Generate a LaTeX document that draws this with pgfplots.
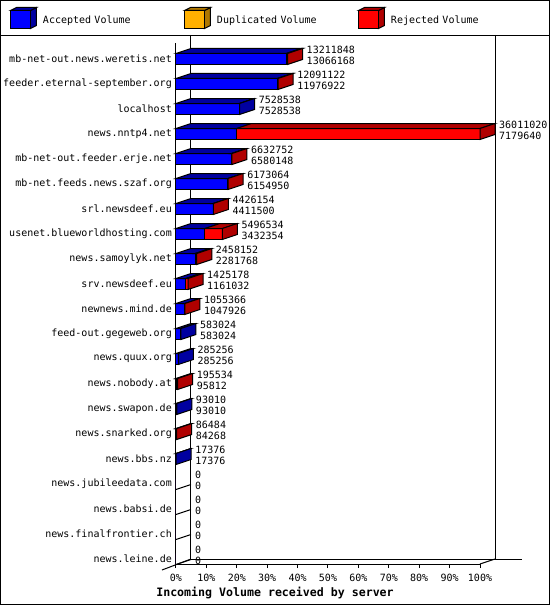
\documentclass[border=0pt]{standalone}
\usepackage{fontspec}
\setmainfont{DejaVu Sans Mono}
\usepackage{pgfplots}
\usepackage{pgfplotstable}
\pgfplotsset{compat=1.18}

\definecolor{acc}{RGB}{0,0,255}
\definecolor{accdark}{RGB}{0,0,160}
\definecolor{dup}{RGB}{255,176,0}
\definecolor{dupdark}{RGB}{176,120,0}
\definecolor{rej}{RGB}{255,0,0}
\definecolor{rejdark}{RGB}{176,0,0}

\newcommand\smallfont{\fontsize{10bp}{11bp}\selectfont}
\pgfdeclareplotmark{empty}{}

% row, total volume, accepted volume (bytes); max total = 36011020
\pgfplotstableread{
i tot acc
0 13211848 13066168
1 12091122 11976922
2 7528538 7528538
3 36011020 7179640
4 6632752 6580148
5 6173064 6154950
6 4426154 4411500
7 5496534 3432354
8 2458152 2281768
9 1425178 1161032
10 1055366 1047926
11 583024 583024
12 285256 285256
13 195534 95812
14 93010 93010
15 86484 84268
16 17376 17376
17 0 0
18 0 0
19 0 0
20 0 0
}\volumes

% 3d box faces and the top label, drawn at the right end of each bar
\newcommand\drawbox{%
  \begingroup
    \pgfkeys{/pgf/fpu=true,/pgf/fpu/output format=fixed}%
    \pgfmathparse{\totL}\xdef\bL{\pgfmathresult}%
    \pgfmathparse{-\totL}\xdef\bLn{\pgfmathresult}%
    \pgfmathparse{15-\totL}\xdef\bLf{\pgfmathresult}%
    \pgfmathparse{\accL-\totL}\xdef\bB{\pgfmathresult}%
    \pgfmathparse{15+\accL-\totL}\xdef\bBf{\pgfmathresult}%
  \endgroup
  \ifdim\bL pt>0pt
    \ifdim\bB pt<-0.001pt \def\sidecol{rejdark}\else\def\sidecol{accdark}\fi
    \draw[line width=1bp, fill=accdark] (\bLn bp,5.5bp) -- (\bB bp,5.5bp)
      -- (\bBf bp,10.5bp) -- (\bLf bp,10.5bp) -- cycle;
    \draw[line width=1bp, fill=rejdark] (\bB bp,5.5bp) -- (0bp,5.5bp)
      -- (15bp,10.5bp) -- (\bBf bp,10.5bp) -- cycle;
    \draw[line width=1bp, fill=\sidecol] (0bp,-5.5bp) -- (0bp,5.5bp)
      -- (15bp,10.5bp) -- (15bp,-0.5bp) -- cycle;
  \else
    \draw[line width=1bp] (0bp,-5.5bp) -- (15bp,-0.5bp);
  \fi
  \node[anchor=west, inner sep=0pt, font=\smallfont] at (19bp,9bp) {\pgfplotspointmeta};
}

\newcommand\legcube[2]{%
  \draw[line width=1bp, fill=#2] (20bp,-8.5bp) -- (26bp,-5.5bp) -- (26bp,12.5bp) -- (20bp,9.5bp) -- cycle;
  \draw[line width=1bp, fill=#2] (0bp,9.5bp) -- (6bp,12.5bp) -- (26bp,12.5bp) -- (20bp,9.5bp) -- cycle;
  \draw[line width=1bp, fill=#1] (0bp,-8.5bp) rectangle (20bp,9.5bp);
}

\begin{document}
\begin{tikzpicture}
\begin{axis}[
  at={(0,0)}, anchor=origin,
  x=3.04bp, y=25bp,
  xmin=0, xmax=100, ymin=-20.2, ymax=0.64,
  clip=false,
  axis x line=bottom, axis y line=left,
  axis line style={line width=1bp, -},
  tick align=outside,
  major tick length=4bp,
  tick style={line width=1bp, black},
  ytick style={draw=none},
  xtick={0,10,...,100},
  xticklabel={\pgfmathprintnumber{\tick}\%},
  /pgf/number format/assume math mode=true,
  xticklabel style={inner sep=0pt, yshift=-6bp, font=\smallfont},
  ytick={-20,-19,...,0},
  yticklabels={news.leine.de, news.finalfrontier.ch, news.babsi.de,
    news.jubileedata.com, news.bbs.nz, news.snarked.org, news.swapon.de,
    news.nobody.at, news.quux.org, feed-out.gegeweb.org, newnews.mind.de,
    srv.newsdeef.eu, news.samoylyk.net, usenet.blueworldhosting.com,
    srl.newsdeef.eu, mb-net.feeds.news.szaf.org, mb-net-out.feeder.erje.net,
    news.nntp4.net, localhost, feeder.eternal-september.org,
    mb-net-out.news.weretis.net},
  yticklabel style={inner sep=0pt, font=\smallfont},
  xlabel={Incoming Volume received by server},
  xlabel style={at={(axis description cs:0.3257,-0.0556)}, anchor=center,
    font=\fontsize{11.6bp}{13bp}\selectfont\bfseries},
  legend columns=3,
  legend cell align=left,
  legend style={at={(-0.54605,1.0691)}, anchor=north west, draw=none, fill=none,
    inner sep=0pt, outer sep=0pt,
    /tikz/every odd column/.append style={column sep=6bp},
    nodes={inner sep=0pt, text width=141bp, font=\smallfont}},
]
% back wall and floor
\draw[line width=1bp] (axis cs:4.934,0.96) -- (axis cs:4.934,-20) -- (axis cs:113.8,-20);
\draw[line width=1bp] (axis cs:104.934,0.96) -- (axis cs:104.934,-20);
\draw[line width=1bp] (axis cs:-4.605,-20.44) -- (axis cs:4.934,-20);
\draw[line width=1bp] (axis cs:100,-20.2) -- (axis cs:104.934,-20);

\addplot[forget plot, xbar, bar shift=0pt, bar width=11bp, fill=rej, draw=black, line width=1bp]
  table[x expr=\thisrow{tot}*100/36011020, y expr=-\thisrow{i}] {\volumes};
\addplot[forget plot, xbar, bar shift=0pt, bar width=11bp, fill=acc, draw=black, line width=1bp]
  table[x expr=\thisrow{acc}*100/36011020, y expr=-\thisrow{i}] {\volumes};
% top and side faces, total label
\addplot[forget plot, scatter, only marks, mark=empty, point meta=explicit symbolic,
  visualization depends on={\thisrow{tot}*3.04/360110.20 \as \totL},
  visualization depends on={\thisrow{acc}*3.04/360110.20 \as \accL},
  scatter/@pre marker code/.code={\drawbox},
  scatter/@post marker code/.code={}]
  table[x expr=\thisrow{tot}*100/36011020, y expr=-\thisrow{i}, meta=tot] {\volumes};
% accepted label
\addplot[forget plot, scatter, only marks, mark=empty, point meta=explicit symbolic,
  scatter/@pre marker code/.code={%
    \node[anchor=west, inner sep=0pt, font=\smallfont] at (19bp,-1.5bp) {\pgfplotspointmeta};},
  scatter/@post marker code/.code={}]
  table[x expr=\thisrow{tot}*100/36011020, y expr=-\thisrow{i}, meta=acc] {\volumes};

\addlegendimage{legend image code/.code={\legcube{acc}{accdark}}}
\addlegendentry{Accepted Volume}
\addlegendimage{legend image code/.code={\legcube{dup}{dupdark}}}
\addlegendentry{Duplicated Volume}
\addlegendimage{legend image code/.code={\legcube{rej}{rejdark}}}
\addlegendentry{Rejected Volume}
\end{axis}
\draw[line width=1bp] (-176bp,23.5bp) -- (374bp,23.5bp);
\draw[line width=1bp] (-175.5bp,58.5bp) rectangle (373.5bp,-545.5bp);
\pgfresetboundingbox
\path[use as bounding box] (-176bp,59bp) rectangle (374bp,-546bp);
\end{tikzpicture}
\end{document}
